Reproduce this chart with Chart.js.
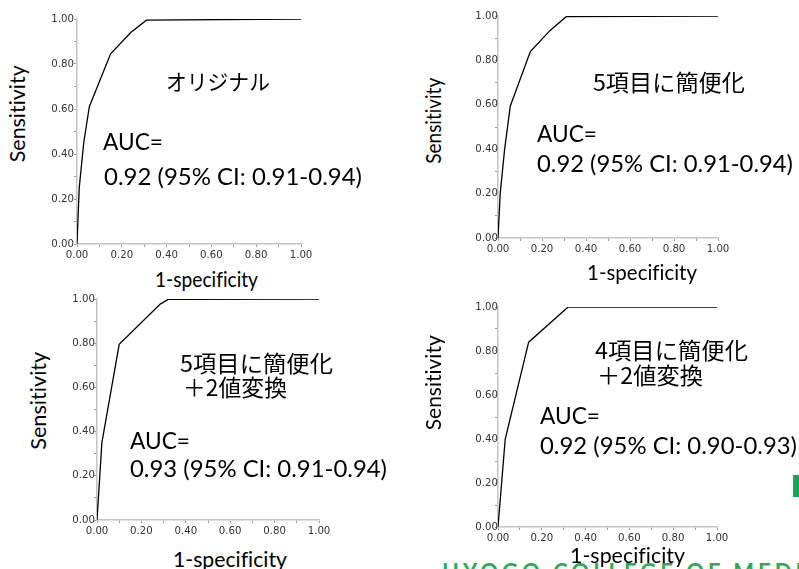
<!DOCTYPE html>
<html>
<head>
<meta charset="utf-8">
<script src="https://cdn.jsdelivr.net/npm/chart.js@4.4.1/dist/chart.umd.min.js"></script>
<style>
  html, body { margin: 0; padding: 0; background: #fff; }
  #page { position: relative; width: 799px; height: 569px; overflow: hidden; background: #fff; }
  canvas { position: absolute; }
  .txt { position: absolute; white-space: nowrap; line-height: 1; color: #000; font-family: Lato, sans-serif;
         transform-origin: left top; font-variant-ligatures: none; }
  .jp { font-family: "Noto Sans CJK JP", sans-serif; }
  .rot { transform-origin: center center; }
  .brand { position: absolute; left: 442px; top: 561px; font: bold 22px Lato, sans-serif; letter-spacing: 4px;
           color: #2eaa55; white-space: nowrap; line-height: 1; }
  .block { position: absolute; left: 793px; top: 475px; width: 6px; height: 22px; background: #14a55a; }
</style>
</head>
<body>
<div id="page">
  <div class="brand">HYOGO COLLEGE OF MEDICINE</div>
  <div class="block"></div>
</div>
<script>
// ROC curves (1-specificity, sensitivity)
const fprOriginal = [0, 0.01, 0.03, 0.055, 0.15, 0.24, 0.31, 1];
const tprOriginal = [0, 0.25, 0.45, 0.61, 0.845, 0.94, 0.995, 1];

const fprFive = [0, 0.01, 0.03, 0.056, 0.147, 0.237, 0.31, 1];
const tprFive = [0, 0.2, 0.4, 0.595, 0.84, 0.935, 0.997, 1];

const fprFiveBin = [0, 0.022, 0.1, 0.285, 0.32, 1];
const tprFiveBin = [0, 0.35, 0.795, 0.977, 0.998, 1];

const fprFourBin = [0, 0.033, 0.14, 0.32, 1];
const tprFourBin = [0, 0.40, 0.84, 1, 1];

const titles = ['オリジナル', '5項目に簡便化', '5項目に簡便化\n＋2値変換', '4項目に簡便化\n＋2値変換'];
const aucLines = [
  '0.92 (95% CI: 0.91-0.94)',
  '0.92 (95% CI: 0.91-0.94)',
  '0.93 (95% CI: 0.91-0.94)',
  '0.92 (95% CI: 0.90-0.93)'
];
const xTitle = '1-specificity';
const yTitle = 'Sensitivity';

// plot rectangles and text spots for each panel ([x, capTop, size, width])
const panels = [
  { fpr: fprOriginal, tpr: tprOriginal, plot: [77, 19, 301, 244], labPad: 0,
    yT: [20, 113.5, 97], xT: [155, 272, 103],
    title: [[166, 72, 21.5, 104]], auc: [[103, 133, 60], [104, 168, 258]] },
  { fpr: fprFive, tpr: tprFive, plot: [498, 16, 718, 238], labPad: -3,
    yT: [436, 120.5, 86], xT: [587, 265, 110],
    title: [[593, 72, 23, 152]], auc: [[537, 125, 60], [537, 155, 256]] },
  { fpr: fprFiveBin, tpr: tprFiveBin, plot: [97, 299, 319, 520], labPad: -1,
    yT: [41, 401, 98], xT: [173, 552, 114],
    title: [[180, 353, 23, 153], [183, 377, 23, 104]], auc: [[130, 432, 60], [130, 460, 257]] },
  { fpr: fprFourBin, tpr: tprFourBin, plot: [498, 307, 717, 527], labPad: -3,
    yT: [436.5, 382.5, 95], xT: [570, 548, 115],
    title: [[595, 340, 23, 153], [597, 365, 23, 106]], auc: [[540, 407, 60], [540, 437, 257]] }
];

const page = document.getElementById('page');
const LEFT = 40, TOP = 8, RIGHT = 15, BOTTOM = 22;

// places a text so its cap top sits at capTop, squeezed to the width
function addText(str, x, capTop, size, width, cls) {
  const d = document.createElement('div');
  d.className = 'txt' + (cls ? ' ' + cls : '');
  d.textContent = str;
  d.style.fontSize = size + 'px';
  d.style.left = x + 'px';
  const off = cls === 'jp' ? 0.1 : 0.17;
  d.style.top = (capTop - off * size) + 'px';
  page.appendChild(d);
  const k = width / d.getBoundingClientRect().width;
  d.style.transform = 'scaleX(' + k.toFixed(3) + ')';
  return d;
}

function addRotated(str, cx, cy, size, length) {
  const d = document.createElement('div');
  d.className = 'txt rot';
  d.textContent = str;
  d.style.fontSize = size + 'px';
  page.appendChild(d);
  const r = d.getBoundingClientRect();
  const k = length / r.width;
  d.style.left = (cx - 2.5 - r.width / 2) + 'px';
  d.style.top = (cy - r.height / 2) + 'px';
  d.style.transform = 'rotate(-90deg) scaleX(' + k.toFixed(3) + ')';
}

function tickFmt(value, index) {
  return index % 2 === 0 ? (index / 10).toFixed(2) : '';
}

function axis(extra) {
  return Object.assign({
    type: 'linear', min: 0, max: 1,
    ticks: { stepSize: 0.1, autoSkip: false, maxRotation: 0, padding: 0,
             color: '#333', font: { family: 'DejaVu Sans', size: 10.2 }, callback: tickFmt },
    grid: { drawOnChartArea: false, tickLength: 3, color: '#9a9a9a', lineWidth: 1 },
    border: { color: '#c4c4c4', width: 1.5 }
  }, extra);
}

panels.forEach((p, i) => {
  const [l, t, r, b] = p.plot;
  const cv = document.createElement('canvas');
  const w = (r - l) + LEFT + RIGHT, h = (b - t) + TOP + BOTTOM;
  cv.width = w; cv.height = h;
  cv.style.left = (l - LEFT) + 'px';
  cv.style.top = (t - TOP) + 'px';
  cv.style.width = w + 'px'; cv.style.height = h + 'px';
  page.appendChild(cv);

  const yAxis = axis({ afterFit: s => { s.width = LEFT; } });
  yAxis.ticks = Object.assign({}, yAxis.ticks, { padding: p.labPad });
  const xAxis = axis({ afterFit: s => { s.height = BOTTOM; } });
  xAxis.ticks = Object.assign({}, xAxis.ticks, { padding: 2 });

  new Chart(cv, {
    type: 'line',
    data: {
      datasets: [{
        data: p.fpr.map((x, k) => ({ x: x, y: p.tpr[k] })),
        borderColor: '#000', borderWidth: 1.3, pointRadius: 0, tension: 0, fill: false
      }]
    },
    options: {
      responsive: false, animation: false, events: [],
      layout: { padding: { left: 0, top: TOP, right: RIGHT, bottom: 0 } },
      plugins: { legend: { display: false }, tooltip: { enabled: false } },
      scales: { x: xAxis, y: yAxis }
    }
  });

  addRotated(yTitle, p.yT[0], p.yT[1], 21.5, p.yT[2]);
  addText(xTitle, p.xT[0], p.xT[1], 21, p.xT[2]);

  titles[i].split('\n').forEach((line, k) => {
    const [x, y, s, wd] = p.title[k];
    addText(line, x, y, s, wd, 'jp');
  });
  addText('AUC=', p.auc[0][0], p.auc[0][1], 24, p.auc[0][2]);
  addText(aucLines[i], p.auc[1][0], p.auc[1][1], 24, p.auc[1][2]);
});
</script>
</body>
</html>
